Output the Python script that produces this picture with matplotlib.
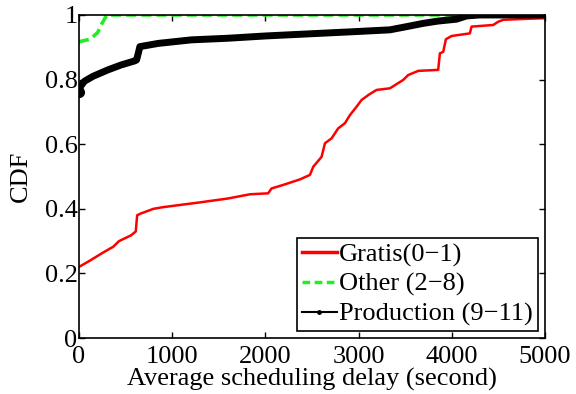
import matplotlib
matplotlib.use('Agg')
import matplotlib.pyplot as plt
from matplotlib.lines import Line2D

# CDF of average scheduling delay per priority group
gratis_x = [0, 120, 250, 370, 430, 560, 610, 625, 660, 800, 900, 1300, 1600, 1835,
            2031, 2067, 2192, 2371, 2479, 2514, 2604, 2640, 2711, 2782, 2854, 2908,
            2979, 3033, 3120, 3194, 3337, 3480, 3533, 3641, 3855, 3873, 3909, 3938,
            3999, 4195, 4213, 4445, 4499, 4553, 4800, 5000]
gratis_y = [0.22, 0.24, 0.263, 0.283, 0.30, 0.318, 0.33, 0.38, 0.385, 0.40, 0.405,
            0.42, 0.432, 0.445, 0.448, 0.463, 0.474, 0.491, 0.505, 0.530, 0.561,
            0.603, 0.618, 0.649, 0.665, 0.690, 0.716, 0.737, 0.755, 0.768, 0.773,
            0.799, 0.814, 0.827, 0.830, 0.881, 0.886, 0.925, 0.935, 0.943, 0.964,
            0.969, 0.979, 0.985, 0.988, 0.99]

other_x = [0, 120, 200, 250, 300, 5000]
other_y = [0.917, 0.925, 0.945, 0.975, 1.0, 1.0]

prod_x = [0, 20, 60, 150, 311, 450, 600, 619, 640, 654, 851, 1209, 1600, 2000,
          2500, 3000, 3337, 3500, 3694, 3850, 4052, 4159, 4300, 5000]
prod_y = [0.762, 0.78, 0.795, 0.81, 0.83, 0.845, 0.858, 0.861, 0.885, 0.902, 0.912,
          0.923, 0.928, 0.935, 0.942, 0.949, 0.954, 0.963, 0.974, 0.981, 0.987,
          0.997, 1.0, 1.0]

labels = ['Gratis(0\u22121)', 'Other (2\u22128)', 'Production (9\u221211)']
xticks = [0, 1000, 2000, 3000, 4000, 5000]
yticks = [0, 0.2, 0.4, 0.6, 0.8, 1]
ytick_labels = ['0', '0.2', '0.4', '0.6', '0.8', '1']

plt.rcParams['font.family'] = ['Liberation Serif', 'DejaVu Serif']
fs = 19

fig = plt.figure(figsize=(5.76, 3.94), dpi=100)
ax = fig.add_axes([0.137, 0.142, 0.809, 0.820])

ax.plot(gratis_x, gratis_y, color='#ff0000', lw=1.8)
ax.plot(other_x, other_y, color='#22ee22', lw=2.6, dashes=(2.8, 1.4))
ax.plot(prod_x, prod_y, color='k', lw=5, solid_capstyle='round',
        solid_joinstyle='round')
ax.plot(prod_x[:1], prod_y[:1], 'o', color='k', ms=7)

ax.set_xlim(0, 5000)
ax.set_ylim(0, 1)
ax.set_xticks(xticks)
ax.set_yticks(yticks)
ax.set_yticklabels(ytick_labels)
ax.tick_params(direction='in', length=4, width=1, top=True, right=True,
               labelsize=fs, pad=1)
ax.tick_params(axis='x', pad=6)
for sp in ax.spines.values():
    sp.set_linewidth(1.2)

ax.set_xlabel('Average scheduling delay (second)', fontsize=fs, labelpad=0)
ax.set_ylabel('CDF', fontsize=fs, labelpad=9)

handles = [Line2D([], [], color='#ff0000', lw=2.5),
           Line2D([], [], color='#22ee22', lw=2.5, dashes=(2.2, 1.3)),
           Line2D([], [], color='k', lw=1.5, marker='.', ms=5)]
leg = ax.legend(handles, labels, loc='lower right', fontsize=fs, frameon=True,
                fancybox=False, edgecolor='k', framealpha=1, handlelength=1.3,
                handletextpad=0.1, borderpad=0.2, labelspacing=0.22,
                borderaxespad=0.25)
leg.get_frame().set_linewidth(1.2)

plt.savefig('out.png', dpi=100)
